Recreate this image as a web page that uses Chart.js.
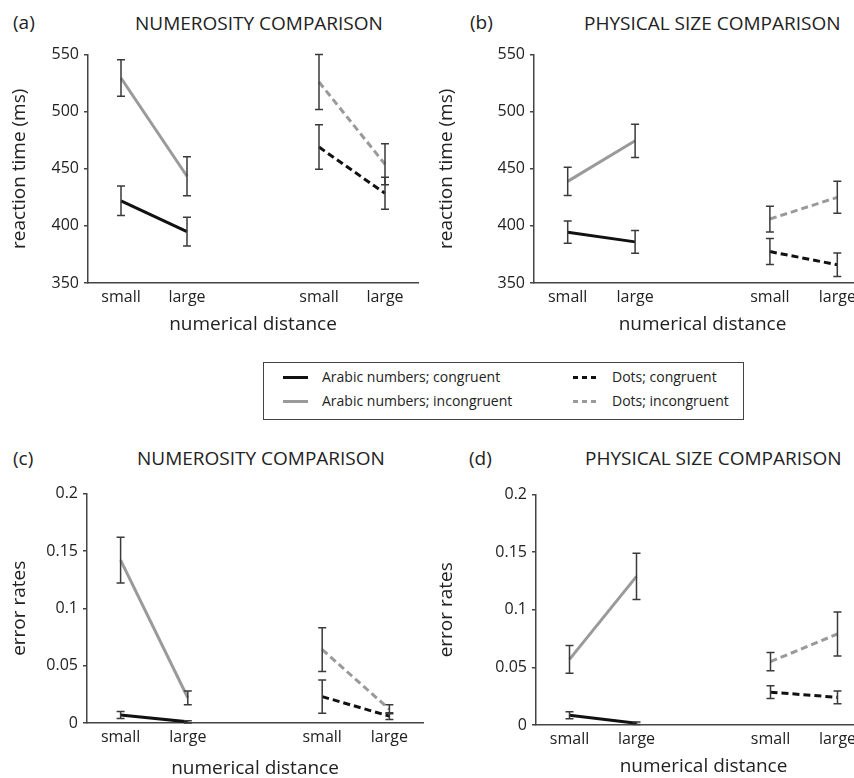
<!DOCTYPE html>
<html>
<head>
<meta charset="utf-8">
<script src="https://cdn.jsdelivr.net/npm/chart.js@4.4.1/dist/chart.umd.min.js"></script>
<style>
  html, body { margin: 0; padding: 0; background: #fff; }
  body { position: relative; width: 854px; height: 778px; overflow: hidden; font-family: "Open Sans", sans-serif; color: #222; }
  canvas { position: absolute; }
  .head { position: absolute; font-size: 19px; line-height: 24px; white-space: nowrap; }
  #legend { position: absolute; left: 263px; top: 362px; width: 479px; height: 56px; border: 1px solid #444; font-size: 14px; }
  .item { position: absolute; height: 20px; line-height: 20px; white-space: nowrap; }
  .swatch { position: absolute; left: 0; top: 9px; width: 25px; height: 3px; }
  .item span.txt { position: absolute; left: 39px; top: 0; }
</style>
</head>
<body>

<div class="head" style="left:13px;top:10px">(a)</div>
<div class="head" style="left:135px;top:11px">NUMEROSITY COMPARISON</div>
<div class="head" style="left:470px;top:10px">(b)</div>
<div class="head" style="left:584px;top:11px">PHYSICAL SIZE COMPARISON</div>
<div class="head" style="left:13px;top:446px">(c)</div>
<div class="head" style="left:137px;top:446px">NUMEROSITY COMPARISON</div>
<div class="head" style="left:469px;top:446px">(d)</div>
<div class="head" style="left:585px;top:446px">PHYSICAL SIZE COMPARISON</div>

<canvas id="chartA" width="427" height="300" style="left:0;top:40px"></canvas>
<canvas id="chartB" width="450" height="300" style="left:427px;top:40px"></canvas>
<canvas id="chartC" width="427" height="305" style="left:0;top:479px"></canvas>
<canvas id="chartD" width="450" height="302" style="left:427px;top:480px"></canvas>

<div id="legend"></div>

<script>
// categories on the x axis: two notation groups, each with small / large distance
var distances = ['small', 'large'];
var xLabels = distances.concat([''], distances);

var seriesNames = ['Arabic numbers; congruent', 'Arabic numbers; incongruent', 'Dots; congruent', 'Dots; incongruent'];

// (a) reaction time, numerosity comparison
var rtNumArabicCong   = [422, 395];
var rtNumArabicCongSE = [13, 12.5];
var rtNumArabicInc    = [529.5, 443.5];
var rtNumArabicIncSE  = [16, 17];
var rtNumDotsCong     = [469, 428.5];
var rtNumDotsCongSE   = [19.5, 14];
var rtNumDotsInc      = [526, 454];
var rtNumDotsIncSE    = [24, 18];

// (b) reaction time, physical size comparison
var rtPhyArabicCong   = [394.5, 386];
var rtPhyArabicCongSE = [9.7, 10];
var rtPhyArabicInc    = [439, 474.5];
var rtPhyArabicIncSE  = [12.4, 14.5];
var rtPhyDotsCong     = [377.5, 366];
var rtPhyDotsCongSE   = [11.4, 10.3];
var rtPhyDotsInc      = [406, 425];
var rtPhyDotsIncSE    = [11.3, 14];

// (c) error rates, numerosity comparison
var erNumArabicCong   = [0.007, 0.001];
var erNumArabicCongSE = [0.003, 0.001];
var erNumArabicInc    = [0.142, 0.022];
var erNumArabicIncSE  = [0.02, 0.006];
var erNumDotsCong     = [0.023, 0.006];
var erNumDotsCongSE   = [0.0145, 0.003];
var erNumDotsInc      = [0.064, 0.012];
var erNumDotsIncSE    = [0.019, 0.004];

// (d) error rates, physical size comparison
var erPhyArabicCong   = [0.0085, 0.0015];
var erPhyArabicCongSE = [0.003, 0.001];
var erPhyArabicInc    = [0.057, 0.129];
var erPhyArabicIncSE  = [0.012, 0.02];
var erPhyDotsCong     = [0.0285, 0.024];
var erPhyDotsCongSE   = [0.0056, 0.0056];
var erPhyDotsInc      = [0.055, 0.079];
var erPhyDotsIncSE    = [0.008, 0.019];

var rtTicks = { min: 350, max: 550, step: 50 };
var erTicks = { min: 0, max: 0.2, step: 0.05 };

Chart.defaults.font.family = '"Open Sans", sans-serif';
Chart.defaults.color = '#222';

var BLACK = '#111';
var GREY = '#9a9a9a';
var styles = [
  { color: BLACK, dash: [] },
  { color: GREY, dash: [] },
  { color: BLACK, dash: [7, 4] },
  { color: GREY, dash: [7, 4] }
];

// arabic numbers sit in the first group, dots in the second
function place(vals, group) {
  return group === 0 ? vals.concat([null, null, null]) : [null, null, null].concat(vals);
}

var errorBars = {
  id: 'errorBars',
  afterDatasetsDraw: function(chart) {
    var ctx = chart.ctx;
    var y = chart.scales.y;
    chart.data.datasets.forEach(function(ds, i) {
      var meta = chart.getDatasetMeta(i);
      ds.errors.forEach(function(e, j) {
        var v = ds.data[j];
        if (v == null || e == null) return;
        var px = meta.data[j].x;
        var top = y.getPixelForValue(v + e);
        var bot = y.getPixelForValue(v - e);
        ctx.save();
        ctx.strokeStyle = '#3a3a3a';
        ctx.lineWidth = 1.5;
        ctx.beginPath();
        ctx.moveTo(px, top); ctx.lineTo(px, bot);
        ctx.moveTo(px - 4, top); ctx.lineTo(px + 4, top);
        ctx.moveTo(px - 4, bot); ctx.lineTo(px + 4, bot);
        ctx.stroke();
        ctx.restore();
      });
    });
  }
};

function makePanel(id, series, errs, yRange, yTitle, yWidth, xHeight, padRight) {
  var datasets = series.map(function(vals, i) {
    var g = i < 2 ? 0 : 1;
    return {
      label: seriesNames[i],
      data: place(vals, g),
      errors: place(errs[i], g),
      borderColor: styles[i].color,
      borderDash: styles[i].dash,
      borderWidth: 3,
      pointRadius: 0,
      fill: false
    };
  });
  return new Chart(document.getElementById(id), {
    type: 'line',
    data: { labels: xLabels, datasets: datasets },
    options: {
      responsive: false,
      animation: false,
      layout: { padding: { top: 13, right: padRight, left: 0, bottom: 0 } },
      plugins: { legend: { display: false }, tooltip: { enabled: false } },
      scales: {
        x: {
          offset: true,
          grid: { display: false, drawTicks: false },
          border: { color: '#444', width: 1.5 },
          ticks: { autoSkip: false, maxRotation: 0, padding: 5, font: { size: 16 }, color: '#222' },
          title: { display: true, text: 'numerical distance', font: { size: 19 }, color: '#222', padding: { top: 4, bottom: 4 } },
          afterFit: function(s) { s.height = xHeight; }
        },
        y: {
          min: yRange.min,
          max: yRange.max,
          grid: { drawOnChartArea: false, drawTicks: true, tickLength: 4, color: '#444', lineWidth: 1.5 },
          border: { color: '#444', width: 1.5 },
          ticks: {
            stepSize: yRange.step, padding: 5, font: { size: 16 }, color: '#222',
            callback: function(v) { return String(Math.round(v * 100) / 100); }
          },
          title: { display: true, text: yTitle, font: { size: 19 }, color: '#222', padding: { top: 8, bottom: 0 } },
          afterFit: function(s) { s.width = yWidth; }
        }
      }
    },
    plugins: [errorBars]
  });
}

makePanel('chartA',
  [rtNumArabicCong, rtNumArabicInc, rtNumDotsCong, rtNumDotsInc],
  [rtNumArabicCongSE, rtNumArabicIncSE, rtNumDotsCongSE, rtNumDotsIncSE],
  rtTicks, 'reaction time (ms)', 88, 57, 9);

makePanel('chartB',
  [rtPhyArabicCong, rtPhyArabicInc, rtPhyDotsCong, rtPhyDotsInc],
  [rtPhyArabicCongSE, rtPhyArabicIncSE, rtPhyDotsCongSE, rtPhyDotsIncSE],
  rtTicks, 'reaction time (ms)', 107, 57, 6);

makePanel('chartC',
  [erNumArabicCong, erNumArabicInc, erNumDotsCong, erNumDotsInc],
  [erNumArabicCongSE, erNumArabicIncSE, erNumDotsCongSE, erNumDotsIncSE],
  erTicks, 'error rates', 87, 61, 4);

makePanel('chartD',
  [erPhyArabicCong, erPhyArabicInc, erPhyDotsCong, erPhyDotsInc],
  [erPhyArabicCongSE, erPhyArabicIncSE, erPhyDotsCongSE, erPhyDotsIncSE],
  erTicks, 'error rates', 109, 57, 6);

// legend: two columns (arabic | dots), two rows (congruent | incongruent)
var legend = document.getElementById('legend');
var legendPos = [[19, 4], [19, 28], [309, 4], [309, 28]];
seriesNames.forEach(function(name, i) {
  var item = document.createElement('div');
  item.className = 'item';
  item.style.left = legendPos[i][0] + 'px';
  item.style.top = legendPos[i][1] + 'px';
  var sw = document.createElement('div');
  sw.className = 'swatch';
  if (styles[i].dash.length) {
    sw.style.background = 'repeating-linear-gradient(to right, ' + styles[i].color + ' 0 5px, transparent 5px 9px)';
  } else {
    sw.style.background = styles[i].color;
  }
  var txt = document.createElement('span');
  txt.className = 'txt';
  txt.textContent = name;
  item.appendChild(sw);
  item.appendChild(txt);
  legend.appendChild(item);
});
</script>
</body>
</html>
